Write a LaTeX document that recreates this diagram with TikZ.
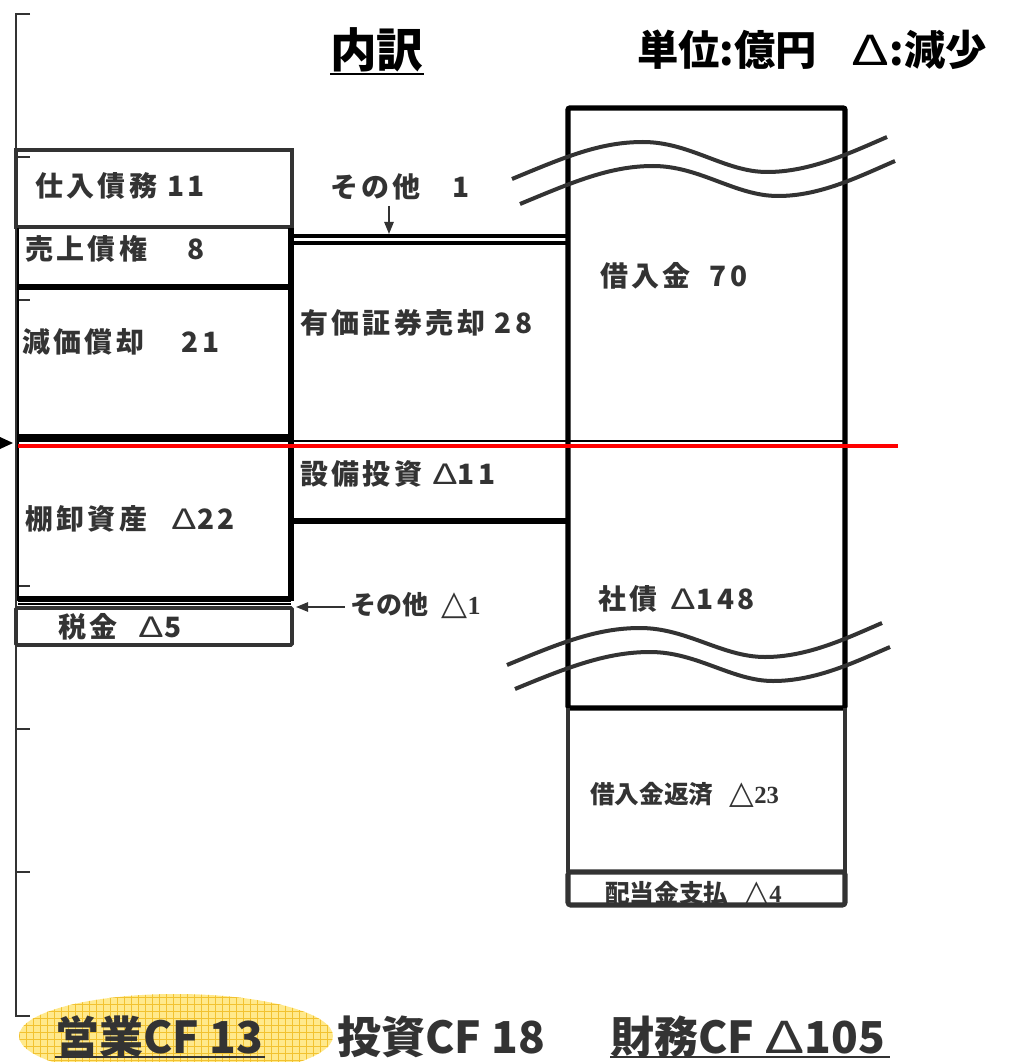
\documentclass[tikz,border=0pt]{standalone}
\usepackage{graphicx}
\usepackage{fontspec}
\newfontfamily\jp{Noto Sans CJK JP}
\newfontfamily\jpls{Noto Sans CJK JP}[LetterSpace=12]
\newfontfamily\ser{Liberation Serif}
\newfontfamily\dv{DejaVu Sans}
\usetikzlibrary{arrows.meta}
\definecolor{g33}{HTML}{333333}
\definecolor{ylw}{HTML}{FFE98C}
\definecolor{ygrid}{HTML}{F2C230}
\newcommand{\tri}{{\mdseries\scalebox{1.4}[1.0]{Δ}}}
\newcommand{\stri}{{\dv\scalebox{1.3}{△}}}
\tikzset{
  blk/.style={line width=4pt, black},
  gry/.style={line width=3.2pt, g33},
  thinl/.style={line width=1pt, black},
  axisl/.style={line width=1.5pt, g33},
  wave/.style={line width=3pt, g33},
  lab/.style={font=\jpls\bfseries\fontsize{21}{21}\selectfont, text=g33, inner sep=0pt, anchor=west},
  slab/.style={font=\jp\bfseries\fontsize{18.5}{18.5}\selectfont, text=g33, inner sep=0pt, anchor=west},
  big/.style={font=\jp\bfseries\fontsize{33}{33}\selectfont, text=g33, inner sep=0pt, anchor=west},
  arr/.style={g33, line width=1.2pt, -{Triangle[length=9pt,width=7pt]}}
}
\begin{document}
\begin{tikzpicture}[x=0.75pt,y=-0.75pt]
\useasboundingbox (0,0) rectangle (1012,1062);
% ellipse highlight
\fill[ylw] (176,1036) ellipse [x radius=157, y radius=42];
\begin{scope}
  \clip (176,1036) ellipse [x radius=157, y radius=42];
  \foreach \x in {19,26,...,340} \draw[ygrid, line width=0.5pt] (\x,990) -- (\x,1080);
  \foreach \y in {990,997,...,1080} \draw[ygrid, line width=0.5pt] (15,\y) -- (340,\y);
\end{scope}
% axis
\draw[axisl] (30,14) -- (16,14) -- (16,1016) -- (30,1016);
\foreach \t in {157,300,586,729,872} \draw[axisl] (16,\t) -- (30,\t);
\fill[black] (0,437) -- (13,443) -- (0,449) -- cycle;
% left column
\draw[gry] (16,150) rectangle (292,227);
\draw[line width=2.2pt, black] (18,228) -- (18,601);
\draw[blk] (291,228) -- (291,601);
\draw[blk] (18,287) -- (291,287);
\draw[blk] (18,437) -- (291,437);
\draw[thinl] (18,441) -- (845,441);
\draw[blk] (18,599) -- (291,599);
\draw[thinl] (18,604) -- (291,604);
\draw[gry, line width=2.8pt, rounded corners=1pt] (16,608) rectangle (292,645);
% middle column
\draw[line width=3.2pt, black] (291,236) -- (568,236);
\draw[line width=3.2pt, black] (291,243) -- (568,243);
\draw[blk] (291,521) -- (568,521);
% right column
\draw[blk, rounded corners=1.5pt] (568,108) rectangle (845,708);
\draw[g33, line width=2.8pt] (568,708) -- (568,872);
\draw[g33, line width=2.8pt] (845,708) -- (845,872);
\draw[g33, line width=3.8pt, rounded corners=2pt] (568,872) rectangle (845,905);
% red line
\draw[red, line width=3.2pt] (18,446) -- (898,446);
% waves
\draw[wave] (512,179) .. controls (565,157) and (600,142) .. (643,142) .. controls (690,142) and (725,172) .. (767,172) .. controls (810,172) and (850,153) .. (887,137);
\draw[wave] (520,204) .. controls (573,182) and (610,166) .. (653,166) .. controls (700,166) and (735,196) .. (778,196) .. controls (820,196) and (858,177) .. (895,161);
\draw[wave] (507,665) .. controls (560,643) and (597,628) .. (640,628) .. controls (687,628) and (722,657) .. (765,657) .. controls (808,657) and (847,638) .. (882,623);
\draw[wave] (515,689) .. controls (568,667) and (607,652) .. (650,652) .. controls (697,652) and (732,681) .. (773,681) .. controls (816,681) and (855,662) .. (890,647);
% title
\node[font=\jp\bfseries\fontsize{35}{35}\selectfont, inner sep=0pt, anchor=west] (title) at (330,50) {内訳};
\draw[line width=1.5pt] ([yshift=-1pt]title.south west) -- ([yshift=-1pt]title.south east);
\node[font=\jp\bfseries\fontsize{31}{31}\selectfont, inner sep=0pt, anchor=west] (unit) at (637,50) {単位:億円\hspace{26pt}\tri:減少};
% left labels
\node[lab] (shiire) at (35,186) {仕入債務 11};
\node[lab] (uriage) at (25,249) {売上債権\hspace{30pt}8};
\node[lab] (genka) at (22,342) {減価償却\hspace{28pt}21};
\node[lab] (tana) at (25,519) {棚卸資産\hspace{18pt}\tri22};
\node[lab] (zei) at (58,627) {税金\hspace{16pt}\tri5};
% middle labels
\node[lab] (yuka) at (300,323) {有価証券売却 28};
\node[lab] (setsubi) at (300,474) {設備投資 \tri11};
\node[lab] (other1) at (330,187) {その他\hspace{24pt}1};
\coordinate (dline) at (389,234);
\draw[arr] (other1.south -| dline) ++(0,-4pt) -- (dline);
\node[font=\jp\bfseries\fontsize{19.5}{19.5}\selectfont, text=g33, inner sep=0pt, anchor=west] (other2) at (350,606) {その他\hspace{10pt}\stri{\ser\bfseries 1}};
\coordinate (lcol) at (296,607);
\draw[arr] (other2.west |- lcol) ++(-4pt,0) -- (lcol);
% right labels
\node[lab] (kari) at (600,276) {借入金\hspace{14pt}70};
\node[lab] (shasai) at (598,599) {社債\hspace{10pt}\tri148};
\node[slab] (hensai) at (590,795) {借入金返済\hspace{12pt}\stri{\ser\bfseries 23}};
\begin{scope}
  \clip (568,872) rectangle (845,903);
  \node[slab] (haito) at (605,894) {配当金支払\hspace{12pt}\stri{\ser\bfseries 4}};
\end{scope}
% bottom labels
\node[big] (eigyo) at (55,1037) {営業CF 13};
\draw[g33, line width=1.5pt] (55,1057) -- (265,1057);
\node[big] (toshi) at (337,1037) {投資CF 18};
\node[big] (zaimu) at (610,1037) {財務CF \tri105};
\draw[g33, line width=1.5pt] (610,1057) -- (890,1057);
\end{tikzpicture}
\end{document}
